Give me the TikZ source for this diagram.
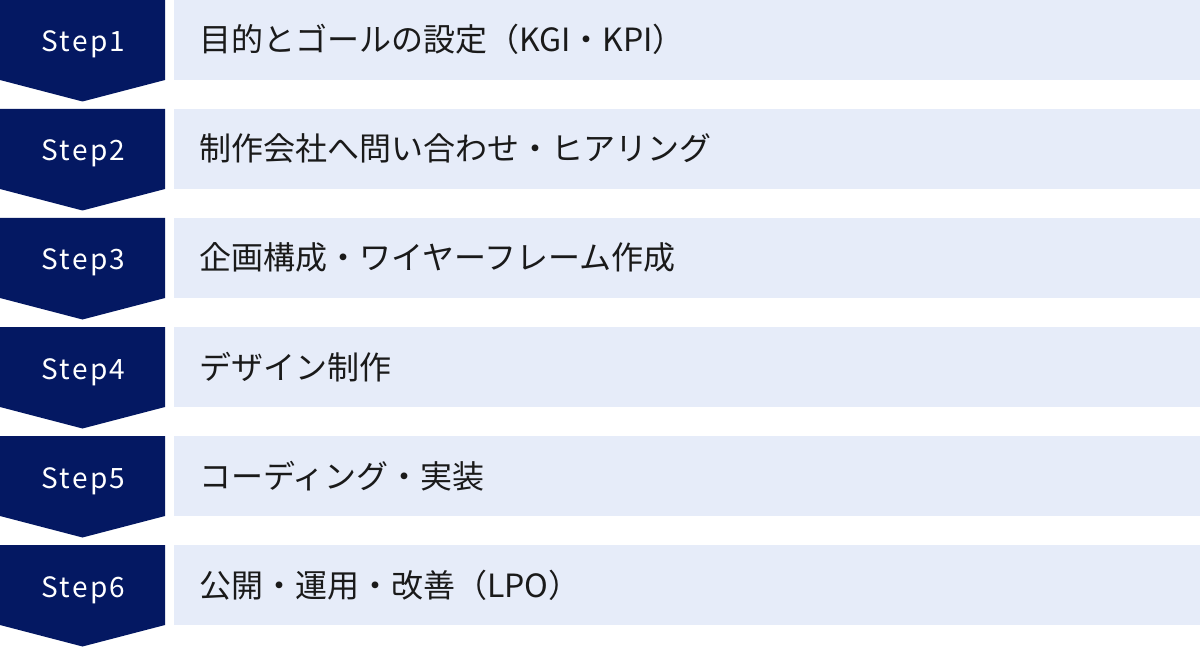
\documentclass[tikz,border=0pt]{standalone}
\usepackage{fontspec}
\setmainfont{Noto Sans CJK JP}
\newfontfamily\stepfont[LetterSpace=8]{Noto Sans CJK JP}
\definecolor{stepnavy}{HTML}{041862}
\definecolor{steplight}{HTML}{E6ECF9}
\definecolor{steptext}{HTML}{1A1A1A}
\tikzset{
  steplabel/.style={text=white,font=\stepfont\fontsize{28pt}{34pt}\selectfont,inner sep=0pt,anchor=base},
  stepbox/.style={fill=steplight,text=steptext,font=\fontsize{32pt}{38pt}\selectfont,
    anchor=west,minimum height=80pt,text width=976pt,inner xsep=25pt,inner ysep=0pt,
    text height=28pt,text depth=4pt,align=left},
}
\begin{document}
\begin{tikzpicture}[x=1pt,y=-1pt]
  \useasboundingbox (0,0) rectangle (1200,647);
  \foreach \i/\txt in {1/目的とゴールの設定（KGI・KPI）,
                       2/制作会社へ問い合わせ・ヒアリング,
                       3/企画構成・ワイヤーフレーム作成,
                       4/デザイン制作,
                       5/コーディング・実装,
                       6/公開・運用・改善（LPO）} {
    \pgfmathsetmacro\top{(\i-1)*109}
    % chevron
    \fill[stepnavy] (0,\top) -- (165,\top) -- (165,\top+80) -- (82.5,\top+101.5)
      -- (0,\top+80) -- cycle;
    \node[steplabel] (S\i) at (83.5,\top+52) {Step\i};
    \node[stepbox] (B\i) at (174,\top+40) {\txt};
  }
\end{tikzpicture}
\end{document}
